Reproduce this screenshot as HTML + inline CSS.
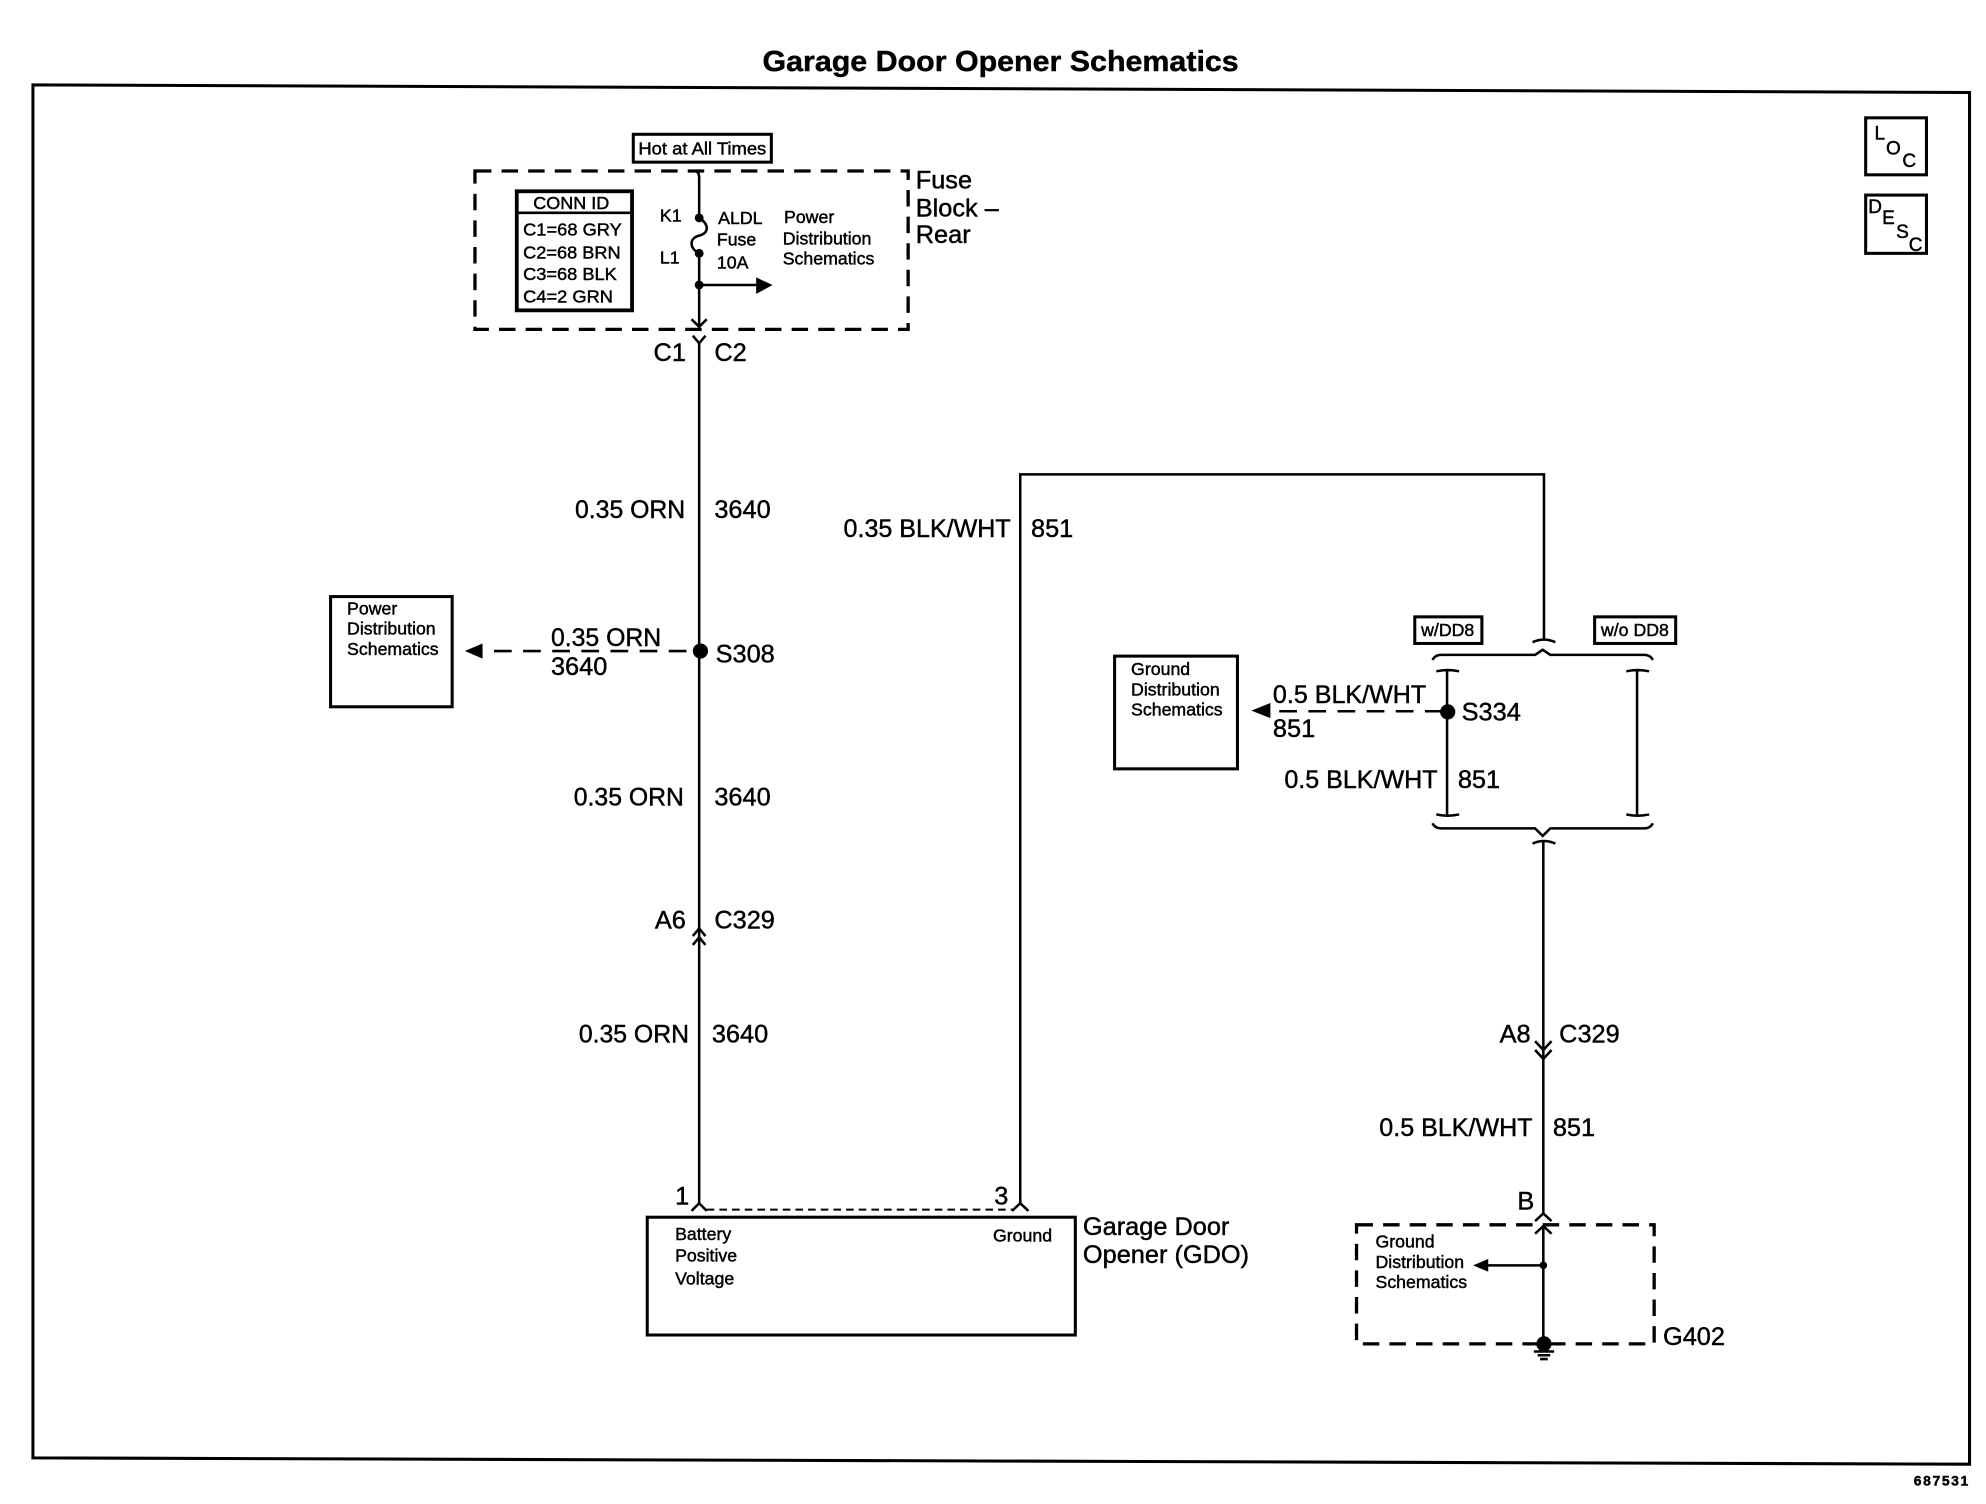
<!DOCTYPE html>
<html><head><meta charset="utf-8"><style>
html,body{margin:0;padding:0;background:#fff;width:1986px;height:1504px;overflow:hidden}
svg{display:block}
text{font-family:"Liberation Sans",sans-serif;fill:#000;stroke:#000;stroke-width:.35}
.s{font-size:14px}.m{font-size:20px}
.k{fill:none;stroke:#000;stroke-width:2}
.b{fill:none;stroke:#000;stroke-width:2.4}
.d{fill:none;stroke:#000;stroke-width:2.6;stroke-dasharray:13 8}
.f{fill:#000;stroke:none}
</style></head><body>
<svg width="1986" height="1504" viewBox="0 0 1568 1187.400" xmlns="http://www.w3.org/2000/svg">
<text x="602" y="56" font-size="23" font-weight="bold" textLength="376" lengthAdjust="spacingAndGlyphs">Garage Door Opener Schematics</text>
<path class="b" d="M26 67L1555 73V1156L26 1151Z"/>
<!-- LOC DESC -->
<rect class="b" x="1473" y="93" width="48" height="45"/>
<text x="1480" y="110" font-size="15">L</text><text x="1489" y="122" font-size="15">O</text><text x="1502" y="132" font-size="15">C</text>
<rect class="b" x="1473" y="154" width="48" height="46"/>
<text x="1475" y="168" font-size="15">D</text><text x="1486" y="177" font-size="15">E</text><text x="1497" y="188" font-size="15">S</text><text x="1507" y="198" font-size="15">C</text>
<!-- Fuse block -->
<rect class="b" x="500" y="106" width="109" height="22"/>
<text class="s" x="504" y="122" textLength="101" lengthAdjust="spacingAndGlyphs">Hot at All Times</text>
<rect class="d" x="375" y="135" width="342" height="125"/>
<rect x="408" y="151" width="91" height="94" fill="none" stroke="#000" stroke-width="3"/>
<path class="k" d="M408 168H499"/>
<text class="s" x="421" y="165" textLength="60" lengthAdjust="spacingAndGlyphs">CONN ID</text>
<text class="s" x="413" y="186" textLength="78" lengthAdjust="spacingAndGlyphs">C1=68 GRY</text>
<text class="s" x="413" y="204" textLength="77" lengthAdjust="spacingAndGlyphs">C2=68 BRN</text>
<text class="s" x="413" y="221" textLength="74" lengthAdjust="spacingAndGlyphs">C3=68 BLK</text>
<text class="s" x="413" y="239" textLength="71" lengthAdjust="spacingAndGlyphs">C4=2 GRN</text>
<text class="s" x="521" y="175">K1</text><text class="s" x="521" y="208">L1</text>
<text class="s" x="567" y="177">ALDL</text><text class="s" x="566" y="194">Fuse</text><text class="s" x="566" y="212">10A</text>
<text class="s" x="619" y="176">Power</text><text class="s" x="618" y="193">Distribution</text><text class="s" x="618" y="209">Schematics</text>
<text class="m" x="723" y="149">Fuse</text><text class="m" x="723" y="171">Block –</text><text class="m" x="723" y="192">Rear</text>
<!-- main wire 1 -->
<path class="k" d="M548 135Q552 135 552 140V172C560 177 560 184 552 186C544 188 544 196 552 200V258"/>
<circle class="f" cx="552" cy="172" r="3.500"/><circle class="f" cx="552" cy="200" r="3.500"/><circle class="f" cx="552" cy="225" r="3.500"/>
<path class="k" d="M552 225H598"/><path class="f" d="M597 219L610 225L597 232Z"/>
<path class="k" d="M546 252L552 258L558 252M547 265L552 271L557 265M552 271V950M546 956L552 950L558 956"/>
<text class="m" x="516" y="285">C1</text><text class="m" x="564" y="285">C2</text>
<text class="m" x="454" y="409" textLength="87" lengthAdjust="spacingAndGlyphs">0.35 ORN</text><text class="m" x="564" y="409">3640</text>
<rect class="b" x="261" y="471" width="96" height="87"/>
<text class="s" x="274" y="485">Power</text><text class="s" x="274" y="501">Distribution</text><text class="s" x="274" y="517">Schematics</text>
<path class="f" d="M367 514L381 508V520Z"/>
<path class="k" d="M390 514H552" stroke-dasharray="14 9"/>
<circle class="f" cx="553" cy="514" r="6"/>
<text class="m" x="565" y="523">S308</text>
<text class="m" x="435" y="510" textLength="87" lengthAdjust="spacingAndGlyphs">0.35 ORN</text><text class="m" x="435" y="533">3640</text>
<text class="m" x="453" y="636" textLength="87" lengthAdjust="spacingAndGlyphs">0.35 ORN</text><text class="m" x="564" y="636">3640</text>
<text class="m" x="517" y="733">A6</text><text class="m" x="564" y="733">C329</text>
<path class="k" d="M547 739L552 733L557 739M547 746L552 740L557 746"/>
<text class="m" x="457" y="823" textLength="87" lengthAdjust="spacingAndGlyphs">0.35 ORN</text><text class="m" x="562" y="823">3640</text>
<text class="m" x="533" y="951">1</text><text class="m" x="785" y="951">3</text>
<path d="M558 955H800" fill="none" stroke="#000" stroke-width="1.600" stroke-dasharray="6 4"/>
<!-- GDO wire -->
<path class="k" d="M805.500 950V374.500H1219V505"/>
<path class="k" d="M799 956L805.500 950L812 956"/>
<text class="m" x="666" y="424" textLength="132" lengthAdjust="spacingAndGlyphs">0.35 BLK/WHT</text><text class="m" x="814" y="424">851</text>
<rect class="b" x="511" y="961" width="338" height="93"/>
<text class="s" x="533" y="979">Battery</text><text class="s" x="533" y="996">Positive</text><text class="s" x="533" y="1014">Voltage</text>
<text class="s" x="784" y="980">Ground</text>
<text class="m" x="855" y="975">Garage Door</text><text class="m" x="855" y="997">Opener (GDO)</text>
<!-- splice pack -->
<rect class="b" x="1117" y="487" width="53" height="21"/><text class="s" x="1122" y="502">w/DD8</text>
<rect class="b" x="1259" y="487" width="64" height="21"/><text class="s" x="1264" y="502">w/o DD8</text>
<path class="k" d="M1210 507Q1219 503 1228 507"/>
<path class="k" d="M1131 521Q1133 517 1138 517H1212L1218 513L1224 517H1298Q1303 517 1305 521"/>
<path class="k" d="M1134 530Q1143 528 1152 530M1142.500 530V643M1134 643Q1143 645 1152 643"/>
<path class="k" d="M1284 530Q1293 528 1302 530M1292.500 530V643M1284 643Q1293 645 1302 643"/>
<path class="k" d="M1131 650Q1133 654 1138 654H1212L1218 660L1224 654H1298Q1303 654 1305 650"/>
<path class="k" d="M1210 666Q1219 662 1228 666M1218.500 664V958"/>
<path class="f" d="M988 561L1003 555V567Z"/>
<path class="k" d="M1010 561.500H1143" stroke-dasharray="14 9"/>
<circle class="f" cx="1143" cy="562" r="6"/>
<text class="m" x="1154" y="569">S334</text>
<text class="m" x="1005" y="555" textLength="121" lengthAdjust="spacingAndGlyphs">0.5 BLK/WHT</text><text class="m" x="1005" y="582">851</text>
<text class="m" x="1014" y="622" textLength="121" lengthAdjust="spacingAndGlyphs">0.5 BLK/WHT</text><text class="m" x="1151" y="622">851</text>
<rect class="b" x="880" y="518" width="97" height="89"/>
<text class="s" x="893" y="533">Ground</text><text class="s" x="893" y="549">Distribution</text><text class="s" x="893" y="565">Schematics</text>
<text class="m" x="1184" y="823">A8</text><text class="m" x="1231" y="823">C329</text>
<path class="k" d="M1212 822L1218.500 829L1225 822M1212 829L1218.500 836L1225 829"/>
<text class="m" x="1089" y="897" textLength="121" lengthAdjust="spacingAndGlyphs">0.5 BLK/WHT</text><text class="m" x="1226" y="897">851</text>
<text class="m" x="1198" y="955">B</text>
<path class="k" d="M1212 964L1218.500 958L1225 964M1212 974L1218.500 968L1225 974"/>
<rect class="d" x="1071" y="967" width="235" height="94"/>
<text class="s" x="1086" y="985">Ground</text><text class="s" x="1086" y="1001">Distribution</text><text class="s" x="1086" y="1017">Schematics</text>
<path class="k" d="M1218.500 968V1062M1218 999H1174"/>
<path class="f" d="M1163 999L1175 994V1004Z"/>
<circle class="f" cx="1218.500" cy="999" r="3"/><circle class="f" cx="1219" cy="1061" r="6"/>
<path class="k" d="M1211 1067H1227M1214 1070H1224M1216 1073H1222"/>
<text class="m" x="1313" y="1062">G402</text>
<text x="1511" y="1173" font-size="11" font-weight="bold" textLength="43">687531</text>
</svg>
</body></html>
